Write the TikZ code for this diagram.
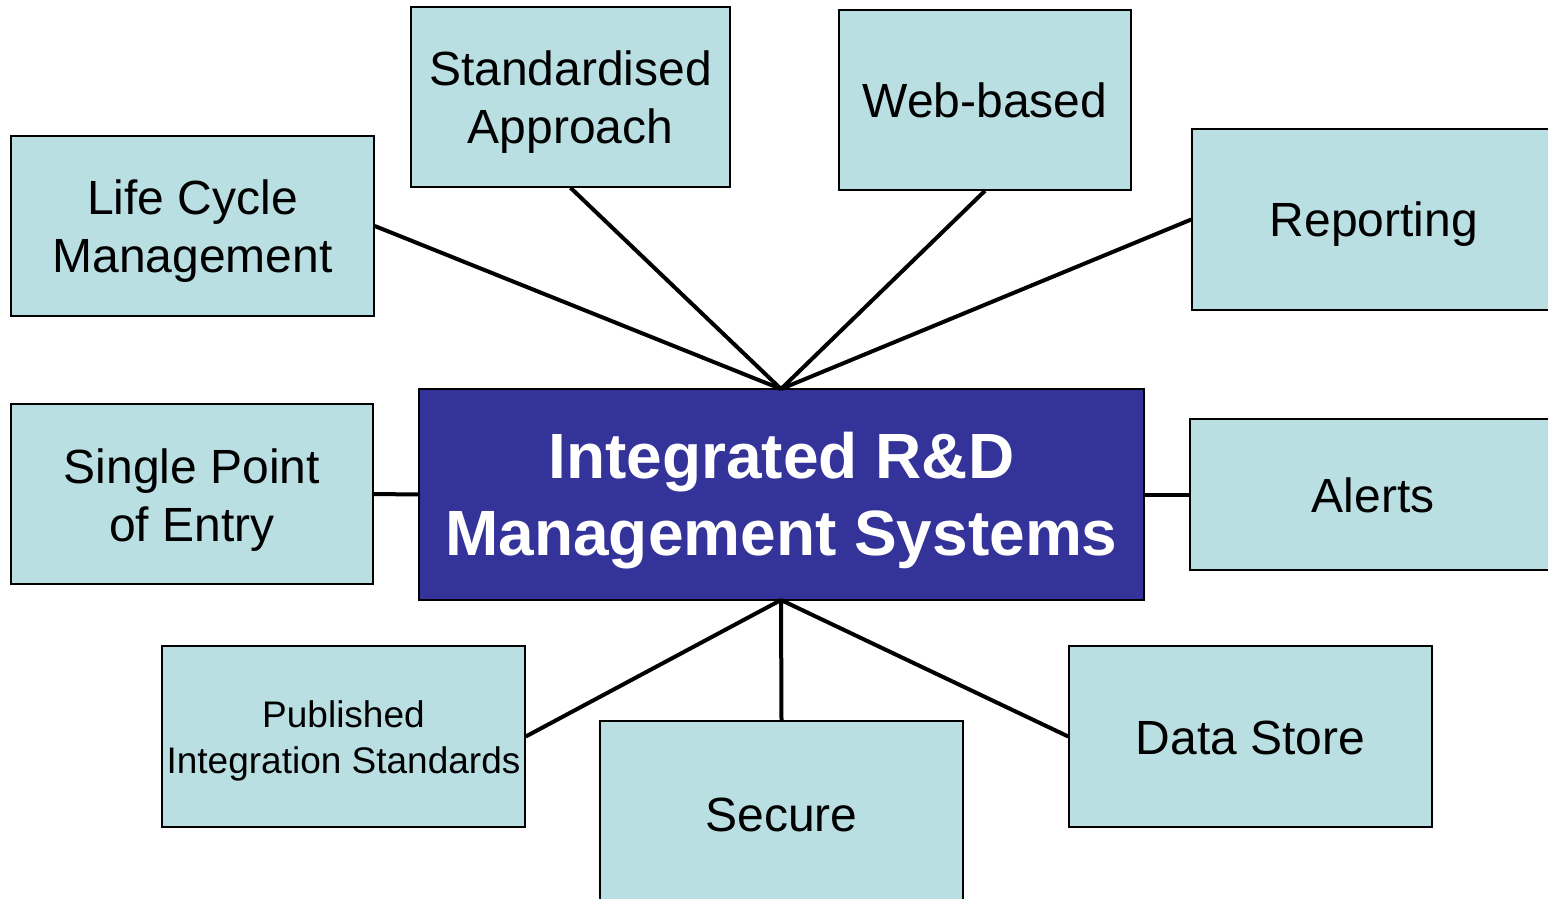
\documentclass[tikz,border=0pt]{standalone}
\usepackage{fontspec}
\setmainfont{Liberation Sans}
\definecolor{boxfill}{HTML}{B9DFE3}
\definecolor{hubfill}{HTML}{333399}
\begin{document}
\begin{tikzpicture}[x=0.5pt,y=-0.5pt,
  leaf/.style={draw=black,line width=0.75pt,fill=boxfill,inner sep=0pt},
  leaftext/.style={inner sep=0pt,align=center,font=\fontsize{24}{29}\selectfont},
  hub/.style={draw=black,line width=0.75pt,fill=hubfill,inner sep=0pt},
  hubtext/.style={inner sep=0pt,align=center,text=white,
    font=\fontsize{32}{38.5}\selectfont\bfseries},
  link/.style={line width=2pt,black}]
\useasboundingbox (0,0) rectangle (1548,899);
\clip (0,0) rectangle (1548,899);
\newcommand{\boxat}[8][]{% [text opts] name, x1,y1,x2,y2, yshift(px), text
  \node[leaf,minimum width={(#5-#3)*0.5pt},minimum height={(#6-#4)*0.5pt}] (#2) at ({(#3+#5)/2},{(#4+#6)/2}) {};
  \node[leaftext,#1] (#2-t) at ([yshift={-(#7)*0.5pt}]#2.center) {#8};}
\boxat{lcm}{11}{136}{374}{316}{5}{Life Cycle\\Management}
\boxat{std}{411}{7}{730}{187}{5}{Standardised\\Approach}
\boxat{web}{839}{10}{1131}{190}{0}{Web-based}
\boxat{rep}{1192}{129}{1556}{310}{5}{Reporting}
\boxat{spe}{11}{404}{373}{584}{6}{Single Point\\of Entry}
\boxat{ale}{1190}{419}{1556}{570}{1}{Alerts}
\boxat[font=\fontsize{18.5}{23}\selectfont]{pub}{162}{646}{525}{827}{4}{Published\\Integration Standards}
\boxat{sec}{600}{721}{963}{911}{-1}{Secure}
\boxat{dat}{1069}{646}{1432}{827}{1}{Data Store}
\node[hub,minimum width={725*0.5pt},minimum height={211*0.5pt}] (hub) at ({(419+1144)/2},{(389+600)/2}) {};
\node[hubtext] (hub-t) at ([yshift=-3pt]hub.center) {Integrated R\&D\\Management Systems};
\coordinate (top) at (781,389);
\coordinate (bot) at (781,600);
\draw[link] (top) -- (lcm.east);
\draw[link] (top) -- (std.south);
\draw[link] (top) -- (web.south);
\draw[link] (top) -- (rep.west);
\draw[link] (spe.east) -- (hub.west);
\draw[link] (ale.west) -- (hub.east);
\draw[link] (bot) -- (pub.east);
\draw[link] (bot) -- (sec.north);
\draw[link] (bot) -- (dat.west);
\end{tikzpicture}
\end{document}
